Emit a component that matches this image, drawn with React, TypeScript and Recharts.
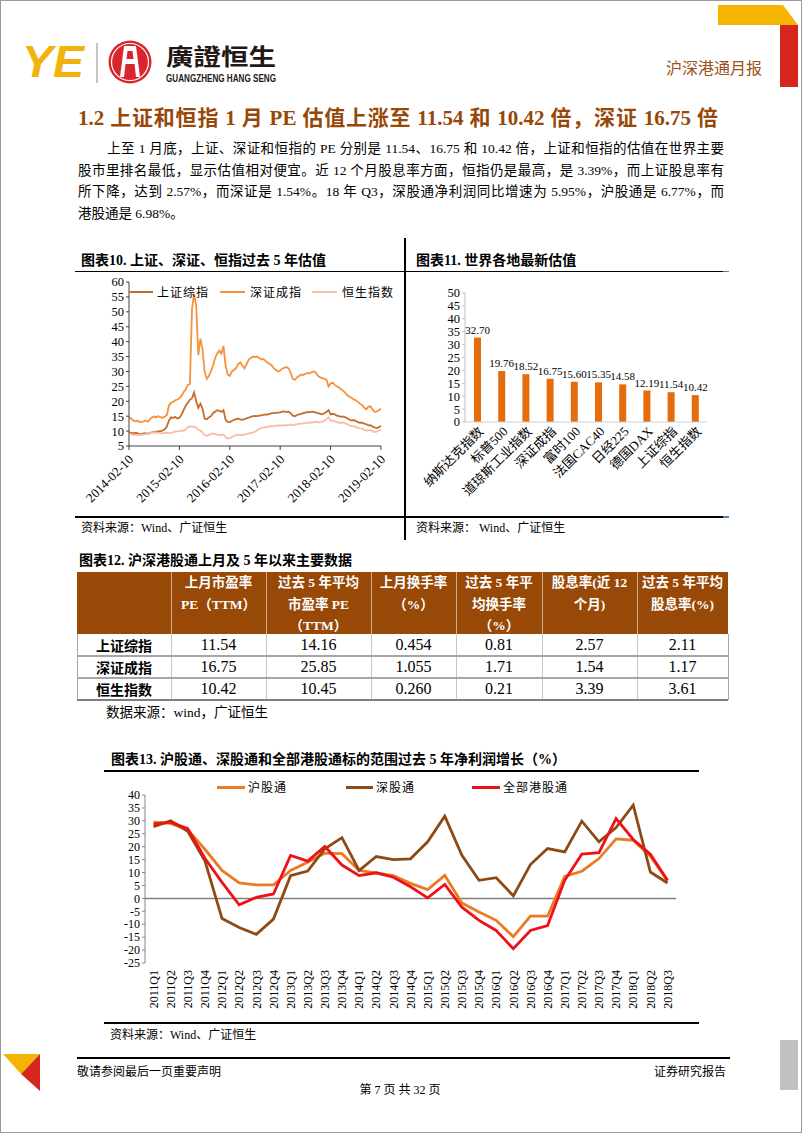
import React from 'react';
import { LineChart, Line, XAxis, YAxis, BarChart, Bar, LabelList, ReferenceLine } from 'recharts';

const SERIF = "'Liberation Serif', 'Noto Sans CJK SC', serif";
const CJK = "'Noto Sans CJK SC', 'Liberation Serif', sans-serif";

// ---------- 图表10 data (semi-monthly, 2014-02-10 .. 2019-02-10) ----------
const peTickLabels = ['2014-02-10', '2015-02-10', '2016-02-10', '2017-02-10', '2018-02-10', '2019-02-10'];
const peYTicks = [5, 10, 15, 20, 25, 30, 35, 40, 45, 50, 55, 60];

const shPE = [
  9.6, 9.4, 9.2, 9.4, 9.3, 9.0, 9.1, 9.2, 9.3, 9.1, 9.4, 9.6, 9.8, 9.7, 10.0, 9.9, 10.2, 10.6, 11.5, 13.5, 14.6, 14.4,
  14.8, 14.2, 14.5, 15.5, 17.0, 18.5, 19.5, 20.5, 21.0, 23.0, 20.0, 17.8, 19.2, 17.5, 14.2, 14.0, 14.6, 15.0, 16.0, 16.5, 17.0, 16.8, 16.4, 17.0,
  13.8, 13.1, 13.0, 13.4, 13.8, 14.0, 14.2, 13.9, 13.8, 14.0, 14.3, 14.5, 14.8, 15.0, 15.1, 15.0, 15.2, 15.3, 15.4, 15.6, 15.5, 15.8, 16.0, 16.0,
  16.1, 16.2, 16.3, 16.5, 16.6, 16.4, 16.5, 16.0, 15.2, 15.0, 15.4, 15.6, 15.8, 16.0, 16.2, 16.4, 16.3, 16.5, 16.4, 16.2, 16.0, 15.8, 15.6, 16.0,
  16.4, 17.0, 15.6, 15.8, 15.6, 15.2, 15.0, 14.8, 14.9, 14.6, 14.3, 13.8, 13.5, 13.7, 13.4, 13.0, 12.8, 12.8, 12.5, 12.3, 11.9, 12.0, 11.5, 11.2,
  11.0, 11.3, 11.8,
];
const szPE = [
  14.6, 14.2, 13.6, 13.3, 13.5, 13.1, 13.0, 13.3, 13.5, 13.2, 14.0, 14.6, 14.9, 14.6, 15.0, 14.7, 14.5, 14.8, 15.3, 18.5, 19.5, 19.8,
  20.3, 20.6, 21.0, 21.8, 23.0, 24.0, 25.5, 25.8, 51.0, 56.0, 52.0, 35.5, 41.0, 37.5, 30.0, 27.5, 28.5, 30.0, 32.0, 34.5, 36.0, 37.0, 36.0, 38.5,
  32.0, 29.0, 28.5, 30.0, 30.5, 31.2, 32.5, 33.0, 32.0, 31.0, 32.5, 34.0, 34.5, 35.0, 34.8, 35.0, 34.5, 34.0, 34.2, 33.5, 33.0, 32.5, 32.0, 31.0,
  30.5, 30.0, 30.3, 31.0, 31.2, 31.5, 31.0, 29.5, 27.5, 27.2, 28.0, 28.5, 29.0, 28.8, 29.2, 29.5, 29.3, 29.8, 30.0, 29.6, 28.5, 28.0, 27.8, 27.5,
  27.3, 25.0, 26.0, 26.3, 25.5, 25.0, 24.6, 24.0, 23.5, 22.8, 22.0, 21.5, 21.2, 20.6, 20.3, 19.8, 19.2, 18.8, 17.8, 17.3, 18.2, 18.3, 17.2, 16.4,
  16.6, 17.0, 17.5,
];
const hsiPE = [
  9.2, 9.0, 8.7, 8.8, 8.6, 8.8, 8.7, 8.9, 9.0, 9.2, 9.3, 9.5, 9.6, 9.4, 9.5, 9.3, 9.2, 9.4, 9.5, 9.3, 9.4, 9.6,
  9.8, 9.9, 10.0, 10.2, 10.1, 10.5, 11.3, 11.6, 11.4, 11.5, 11.2, 10.5, 10.2, 9.6, 8.6, 8.4, 8.7, 9.0, 9.2, 9.0, 8.8, 8.6, 8.7, 8.8,
  8.0, 7.5, 7.6, 8.0, 8.4, 8.6, 8.8, 8.7, 8.6, 8.8, 9.0, 9.2, 9.4, 9.5, 9.8, 10.3, 10.8, 11.0, 11.2, 11.3, 11.4, 11.6, 11.7, 11.6,
  11.8, 11.9, 11.8, 11.9, 12.0, 11.9, 12.0, 12.1, 12.0, 12.2, 12.3, 12.4, 12.5, 12.6, 12.6, 12.8, 12.9, 12.8, 13.0, 13.1, 13.0, 12.9, 13.1, 13.4,
  14.0, 14.6, 13.4, 13.5, 13.3, 13.0, 12.8, 12.8, 12.9, 12.6, 12.3, 11.9, 11.7, 11.6, 11.4, 11.1, 10.9, 10.8, 10.4, 10.2, 10.3, 10.3, 9.9, 9.7,
  9.8, 10.2, 10.5,
];
const peDates: string[] = shPE.map((_, i) => {
  const mo = 1 + Math.floor(i / 2);
  const yr = 2014 + Math.floor(mo / 12);
  const m = (mo % 12) + 1;
  return `${yr}-${m < 10 ? '0' + m : m}-${i % 2 === 0 ? '10' : '25'}`;
});
const peData = peDates.map((d, i) => ({ date: d, sh: shPE[i], sz: szPE[i], hsi: hsiPE[i] }));

// ---------- 图表11 data ----------
const worldNames = ['纳斯达克指数', '标普500', '道琼斯工业指数', '深证成指', '富时100', '法国CAC40', '日经225', '德国DAX', '上证综指', '恒生指数'];
const worldPE = [32.7, 19.76, 18.52, 16.75, 15.6, 15.35, 14.58, 12.19, 11.54, 10.42];
const worldYTicks = [0, 5, 10, 15, 20, 25, 30, 35, 40, 45, 50];
const worldData = worldNames.map((n, i) => ({ name: n, pe: worldPE[i] }));

// ---------- 图表12 table ----------
const tableHeaders = [
  [],
  ['上月市盈率', 'PE（TTM）'],
  ['过去 5 年平均', '市盈率 PE', '（TTM）'],
  ['上月换手率', '（%）'],
  ['过去 5 年平', '均换手率', '（%）'],
  ['股息率(近 12', '个月)'],
  ['过去 5 年平均', '股息率(%)'],
];
const tableRowNames = ['上证综指', '深证成指', '恒生指数'];
const tableValues = [
  ['11.54', '14.16', '0.454', '0.81', '2.57', '2.11'],
  ['16.75', '25.85', '1.055', '1.71', '1.54', '1.17'],
  ['10.42', '10.45', '0.260', '0.21', '3.39', '3.61'],
];
const colW = [94, 95, 105, 85, 86, 95, 91];

// ---------- 图表13 data ----------
const quarters = [
  '2011Q1', '2011Q2', '2011Q3', '2011Q4', '2012Q1', '2012Q2', '2012Q3', '2012Q4',
  '2013Q1', '2013Q2', '2013Q3', '2013Q4', '2014Q1', '2014Q2', '2014Q3', '2014Q4',
  '2015Q1', '2015Q2', '2015Q3', '2015Q4', '2016Q1', '2016Q2', '2016Q3', '2016Q4',
  '2017Q1', '2017Q2', '2017Q3', '2017Q4', '2018Q1', '2018Q2', '2018Q3',
];
const huGrowth = [29.5, 29.0, 26.5, 19.0, 10.8, 6.0, 5.2, 5.2, 10.8, 14.0, 17.5, 17.3, 10.8, 9.9, 8.8, 5.8, 3.4, 8.9, -1.8, -5.3, -8.5, -14.8, -6.9, -6.9, 8.5, 10.5, 15.4, 23.0, 22.5, 16.3, 6.77];
const shenGrowth = [27.7, 30.0, 26.0, 14.5, -7.8, -11.3, -13.9, -8.0, 8.8, 10.6, 19.2, 23.5, 10.8, 16.2, 15.0, 15.3, 21.9, 31.8, 16.7, 7.0, 8.0, 1.0, 13.1, 19.3, 18.0, 29.9, 21.9, 27.4, 36.1, 10.2, 5.95];
const allGrowth = [28.7, 29.5, 27.0, 15.5, 6.2, -2.5, 0.4, 1.7, 16.6, 14.4, 20.1, 12.9, 8.8, 9.9, 8.2, 4.5, 0.2, 5.4, -3.4, -8.5, -12.4, -19.5, -12.4, -10.5, 7.0, 17.1, 17.7, 30.9, 22.8, 17.1, 6.98];
const growthYTicks = [-25, -20, -15, -10, -5, 0, 5, 10, 15, 20, 25, 30, 35, 40];
const growthData = quarters.map((q, i) => ({ q, hu: huGrowth[i], shen: shenGrowth[i], all: allGrowth[i] }));

const C_SH = '#C46E2C';
const C_SZ = '#F4923E';
const C_HSI = '#F7BEA6';
const C_HU = '#EC7A22';
const C_SHEN = '#8E4A12';
const C_ALL = '#EE1218';

const DiagTick10 = (p: any) => (
  <text x={0} y={0} dy="0.35em" textAnchor="end" transform={`translate(${p.x + 2},${p.y + 5}) rotate(-45)`}
    fontSize={13} fontFamily={SERIF} fill="#000">{p.payload.value}</text>
);
const DiagTick11 = (p: any) => (
  <text x={0} y={0} dy="0.35em" textAnchor="end" transform={`translate(${p.x + 4},${p.y + 5}) rotate(-45)`}
    fontSize={13} fontFamily={SERIF} fill="#000">{p.payload.value}</text>
);
const VertTick13 = (p: any) => (
  <text x={0} y={0} dy="0.35em" textAnchor="end" transform={`translate(${p.x},${p.y + 5}) rotate(-90)`}
    fontSize={12} fontFamily={SERIF} fill="#000">{p.payload.value}</text>
);

function Abs({ x, y, w, h, style, children }: any) {
  return <div style={{ position: 'absolute', left: x, top: y, width: w, height: h, ...style }}>{children}</div>;
}
function HLine({ x1, x2, y, c = '#000', t = 1.5 }: any) {
  return <div style={{ position: 'absolute', left: x1, top: y - t / 2, width: x2 - x1, height: t, background: c }} />;
}
function VLine({ x, y1, y2, c = '#000', t = 1.5 }: any) {
  return <div style={{ position: 'absolute', left: x - t / 2, top: y1, width: t, height: y2 - y1, background: c }} />;
}
function Txt({ x, y, size = 12, children, style }: any) {
  return (
    <div style={{ position: 'absolute', left: x, top: y - size, height: size * 2, lineHeight: `${size * 2}px`, fontSize: size, whiteSpace: 'nowrap', ...style }}>
      {children}
    </div>
  );
}
function LegendItem({ x1, x2, tx, y, color, label, t = 2 }: any) {
  return (
    <>
      <HLine x1={x1} x2={x2} y={y} c={color} t={t} />
      <Txt x={tx} y={y} size={12} style={{ fontFamily: CJK, letterSpacing: 1 }}>{label}</Txt>
    </>
  );
}
function JLine({ x, y, w, size, children, justify = true }: any) {
  return (
    <div style={{ position: 'absolute', left: x, top: y - 11, width: w, height: 22, lineHeight: '22px', fontSize: size,
      textAlign: justify ? 'justify' : 'left', textAlignLast: justify ? 'justify' : 'left' } as any}>
      {children}
    </div>
  );
}

function Header() {
  return (
    <svg width={802} height={100} style={{ position: 'absolute', left: 0, top: 0 }}>
      <text x={22} y={77} fontSize={44} fontWeight={900} fontStyle="italic" fontFamily="'Liberation Sans', sans-serif"
        fill="#F2B20C" textLength={62} lengthAdjust="spacingAndGlyphs">YE</text>
      <line x1={97} y1={43} x2={97} y2={83} stroke="#8c8c8c" strokeWidth={1} />
      <circle cx={130} cy={62} r={21.5} fill="#D9262C" />
      <circle cx={130} cy={62} r={18.5} fill="none" stroke="#fff" strokeWidth={1.2} />
      <path d="M124 46 L136 46 L140 77 L120 77 Z" fill="#fff" />
      <path d="M127.5 51 L132.5 51 L133.5 59 L126.5 59 Z" fill="#D9262C" />
      <path d="M125.5 64 L134.5 64 L136 77 L124 77 Z" fill="#D9262C" />
      <text x={166} y={65} fontSize={23} fontWeight={700} fontFamily={CJK} fill="#231815"
        textLength={110} lengthAdjust="spacingAndGlyphs">廣證恒生</text>
      <text x={166} y={82} fontSize={10.5} fontWeight={700} fontFamily="'Liberation Sans', sans-serif" fill="#231815"
        textLength={110} lengthAdjust="spacingAndGlyphs">GUANGZHENG HANG SENG</text>
      <path d="M718 5 L783 5 L798 25 L718 25 Z" fill="#F4B400" />
      <rect x={780} y={25} width={18} height={62} fill="#D7261E" />
      <text x={762} y={74} textAnchor="end" fontSize={16} fill="#A0501A" fontFamily={CJK}>沪深港通月报</text>
    </svg>
  );
}

function Table12() {
  const left = 77;
  const top = 572;
  const hh = 62;
  const rh = 22;
  const xs: number[] = [];
  colW.reduce((acc, w) => { xs.push(acc); return acc + w; }, left);
  const right = left + colW.reduce((a, b) => a + b, 0);
  return (
    <>
      <Abs x={left} y={top} w={right - left} h={hh} style={{ background: '#984807' }} />
      {xs.slice(1).map((x, i) => <VLine key={'hv' + i} x={x} y1={top} y2={top + hh} c="rgba(255,255,255,0.55)" t={1} />)}
      {tableHeaders.map((lines, ci) => (
        <Abs key={'h' + ci} x={xs[ci]} y={top} w={colW[ci]} h={hh}
          style={{ color: '#fff', fontWeight: 700, fontSize: 13.5, textAlign: 'center', lineHeight: '21.5px' }}>
          {lines.map((l, li) => <div key={li}>{l}</div>)}
        </Abs>
      ))}
      {tableRowNames.map((name, ri) => {
        const y = top + hh + ri * rh;
        return (
          <React.Fragment key={'r' + ri}>
            <Abs x={xs[0]} y={y} w={colW[0]} h={rh}
              style={{ fontWeight: 700, fontSize: 14, textAlign: 'center', lineHeight: `${rh}px`, fontFamily: CJK }}>{name}</Abs>
            {tableValues[ri].map((v, ci) => (
              <Abs key={ci} x={xs[ci + 1]} y={y} w={colW[ci + 1]} h={rh}
                style={{ fontSize: 16, textAlign: 'center', lineHeight: `${rh}px` }}>{v}</Abs>
            ))}
          </React.Fragment>
        );
      })}
      {xs.slice(1).map((x, i) => <VLine key={'bv' + i} x={x} y1={top + hh} y2={top + hh + 3 * rh} c="#c8c8c8" t={1} />)}
      <VLine x={left} y1={top + hh} y2={top + hh + 3 * rh} c="#a6a6a6" t={1} />
      <VLine x={right} y1={top + hh} y2={top + hh + 3 * rh} c="#a6a6a6" t={1} />
      <HLine x1={left} x2={right} y={top + hh + rh} c="#a6a6a6" t={1.5} />
      <HLine x1={left} x2={right} y={top + hh + 2 * rh} c="#a6a6a6" t={1.5} />
      <HLine x1={left} x2={right} y={top + hh + 3 * rh} c="#7f7f7f" t={1.5} />
    </>
  );
}

export default function App() {
  return (
    <div style={{ position: 'absolute', left: 0, top: 0, width: 802, height: 1133, background: '#fff', overflow: 'hidden', fontFamily: SERIF, color: '#000' }}>
      <Header />

      {/* heading + paragraph */}
      <JLine x={78} y={118} w={640} size={21}>
        <span style={{ fontWeight: 700, color: '#984806' }}>1.2 上证和恒指 1 月 PE 估值上涨至 11.54 和 10.42 倍，深证 16.75 倍</span>
      </JLine>
      <JLine x={107} y={149} w={617} size={13.5}>上至 1 月底，上证、深证和恒指的 PE 分别是 11.54、16.75 和 10.42 倍，上证和恒指的估值在世界主要</JLine>
      <JLine x={78} y={170.5} w={646} size={13.5}>股市里排名最低，显示估值相对便宜。近 12 个月股息率方面，恒指仍是最高，是 3.39%，而上证股息率有</JLine>
      <JLine x={78} y={192} w={646} size={13.5}>所下降，达到 2.57%，而深证是 1.54%。18 年 Q3，深股通净利润同比增速为 5.95%，沪股通是 6.77%，而</JLine>
      <JLine x={78} y={213.5} w={646} size={13.5} justify={false}>港股通是 6.98%。</JLine>

      {/* charts 10 / 11 frame */}
      <Txt x={81} y={261} size={14} style={{ fontWeight: 700 }}>图表10.  上证、深证、恒指过去 5 年估值</Txt>
      <Txt x={416} y={261} size={14} style={{ fontWeight: 700 }}>图表11.  世界各地最新估值</Txt>
      <HLine x1={75} x2={723} y={271.5} />
      <HLine x1={723} x2={729} y={271.5} c="#4F81BD" />
      <HLine x1={75} x2={723} y={517} />
      <HLine x1={723} x2={729} y={517} c="#4F81BD" />
      <VLine x={405} y1={238} y2={540} />
      <Txt x={81} y={528} size={12}>资料来源：Wind、广证恒生</Txt>
      <Txt x={416} y={528} size={12}>资料来源：  Wind、广证恒生</Txt>

      <div style={{ position: 'absolute', left: 75, top: 275 }}>
        <LineChart width={330} height={240} data={peData} margin={{ top: 7, right: 24, left: 0, bottom: 0 }}>
          <XAxis dataKey="date" interval={23} height={69} tick={(p: any) => <DiagTick10 {...p} />} tickSize={4}
            tickLine={{ stroke: '#404040' }} axisLine={{ stroke: '#404040' }} />
          <YAxis width={54} type="number" domain={[5, 60]} ticks={peYTicks} interval={0} tickSize={3}
            tick={{ fontSize: 12.5, fill: '#000', fontFamily: SERIF }} axisLine={{ stroke: '#404040' }} tickLine={{ stroke: '#404040' }} />
          <Line dataKey="sh" stroke={C_SH} strokeWidth={1.8} dot={false} isAnimationActive={false} />
          <Line dataKey="sz" stroke={C_SZ} strokeWidth={1.8} dot={false} isAnimationActive={false} />
          <Line dataKey="hsi" stroke={C_HSI} strokeWidth={1.8} dot={false} isAnimationActive={false} />
        </LineChart>
      </div>
      <LegendItem x1={129} x2={153} tx={157} y={292} color={C_SH} label="上证综指" />
      <LegendItem x1={220} x2={245} tx={250} y={292} color={C_SZ} label="深证成指" />
      <LegendItem x1={312} x2={337} tx={342} y={292} color={C_HSI} label="恒生指数" />

      <div style={{ position: 'absolute', left: 405, top: 280 }}>
        <BarChart width={325} height={235} data={worldData} margin={{ top: 13, right: 23, left: 0, bottom: 0 }}>
          <XAxis dataKey="name" interval={0} height={93} tick={(p: any) => <DiagTick11 {...p} />} tickLine={false} tickSize={0}
            axisLine={{ stroke: '#d0d0d0' }} />
          <YAxis width={60} type="number" domain={[0, 50]} ticks={worldYTicks} interval={0} tickSize={3}
            tick={{ fontSize: 12.5, fill: '#000', fontFamily: SERIF }} axisLine={{ stroke: '#c0c0c0' }} tickLine={{ stroke: '#c0c0c0' }} />
          <Bar dataKey="pe" fill="#E46C0A" barSize={7} isAnimationActive={false}>
            <LabelList dataKey="pe" position="top" offset={4} fill="#000" fontSize={11} fontFamily={SERIF}
              formatter={(v: any) => Number(v).toFixed(2)} />
          </Bar>
        </BarChart>
      </div>

      {/* table 12 */}
      <Txt x={79} y={561} size={14} style={{ fontWeight: 700 }}>图表12.  沪深港股通上月及 5 年以来主要数据</Txt>
      <Table12 />
      <Txt x={106} y={712} size={13.5}>数据来源：wind，广证恒生</Txt>

      {/* chart 13 */}
      <Txt x={111} y={760} size={14} style={{ fontWeight: 700 }}>图表13.  沪股通、深股通和全部港股通标的范围过去 5 年净利润增长（%）</Txt>
      <HLine x1={104} x2={699} y={771} />
      <HLine x1={104} x2={699} y={1023} />
      <Txt x={110} y={1035} size={12}>资料来源：Wind、广证恒生</Txt>

      <div style={{ position: 'absolute', left: 100, top: 780 }}>
        <LineChart width={610} height={240} data={growthData} margin={{ top: 15, right: 34, left: 0, bottom: 0 }}>
          <XAxis dataKey="q" interval={0} height={57} tick={(p: any) => <VertTick13 {...p} />} axisLine={false} tickLine={false}
            tickSize={0} padding={{ left: 8.5, right: 8.5 }} />
          <YAxis width={45} type="number" domain={[-25, 40]} ticks={growthYTicks} interval={0} tickSize={3}
            tick={{ fontSize: 12, fill: '#000', fontFamily: SERIF }} axisLine={{ stroke: '#868686' }} tickLine={{ stroke: '#868686' }} />
          <ReferenceLine y={0} stroke="#7f7f7f" strokeWidth={1.5} />
          <Line dataKey="hu" stroke={C_HU} strokeWidth={2.8} dot={false} isAnimationActive={false} />
          <Line dataKey="shen" stroke={C_SHEN} strokeWidth={2.8} dot={false} isAnimationActive={false} />
          <Line dataKey="all" stroke={C_ALL} strokeWidth={2.8} dot={false} isAnimationActive={false} />
        </LineChart>
      </div>
      <LegendItem x1={217} x2={245} tx={248} y={787} color={C_HU} label="沪股通" t={3} />
      <LegendItem x1={346} x2={373} tx={376} y={787} color={C_SHEN} label="深股通" t={3} />
      <LegendItem x1={472} x2={500} tx={503} y={787} color={C_ALL} label="全部港股通" t={3} />

      {/* footer */}
      <svg width={60} height={60} style={{ position: 'absolute', left: 0, top: 1050 }}>
        <path d="M3 4 L40 4 L21 24 Z" fill="#F4B400" />
        <path d="M40 4 L40 41 L21 24 Z" fill="#D7261E" />
      </svg>
      <HLine x1={77} x2={730} y={1058} />
      <Txt x={77} y={1072} size={12}>敬请参阅最后一页重要声明</Txt>
      <Txt x={654} y={1072} size={12}>证券研究报告</Txt>
      <div style={{ position: 'absolute', left: 300, top: 1078, width: 200, textAlign: 'center', fontSize: 12, lineHeight: '24px' }}>第 7 页 共 32 页</div>
      <Abs x={780} y={1040} w={18} h={50} style={{ background: '#c0c0c0' }} />

      <div style={{ position: 'absolute', left: 0, top: 0, width: 802, height: 1133, border: '1px solid #9a9a9a', boxSizing: 'border-box', pointerEvents: 'none' }} />
    </div>
  );
}
